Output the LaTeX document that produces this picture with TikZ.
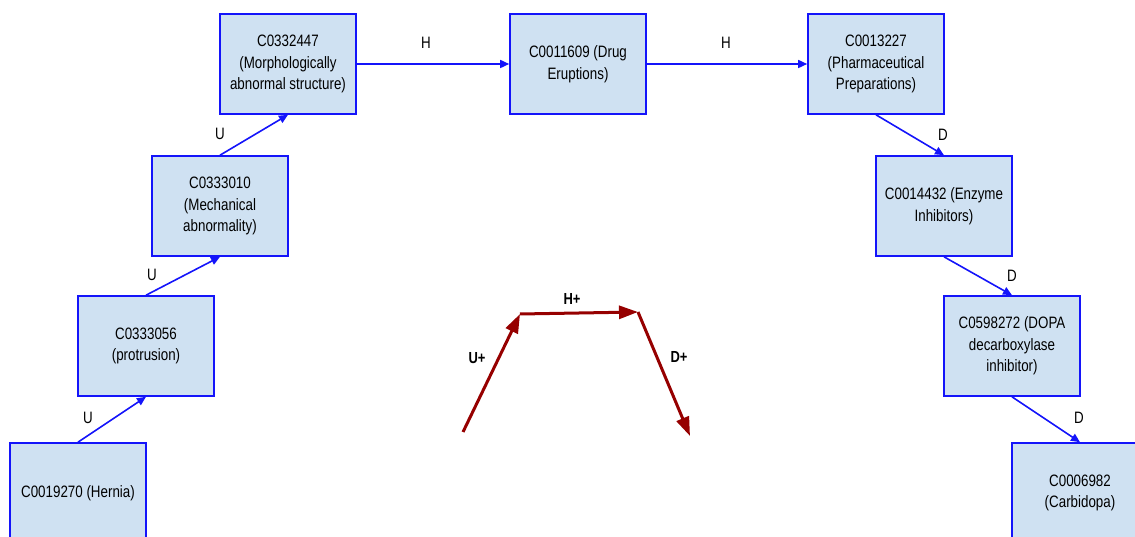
\documentclass[tikz,border=0pt]{standalone}
\usepackage{fontspec}
\setmainfont{Liberation Sans}[FakeStretch=0.81]
\usetikzlibrary{arrows.meta}
\definecolor{boxfill}{RGB}{207,225,242}
\definecolor{boxline}{RGB}{20,20,250}
\definecolor{pathred}{RGB}{150,0,0}
\tikzset{
  concept/.style={draw=boxline, fill=boxfill, line width=1.6pt, rectangle,
    minimum width=136pt, minimum height=100pt, inner sep=0pt, align=center,
    font=\fontsize{16.5}{21.7}\selectfont},
  rel/.style={draw=boxline, line width=1.6pt, -{Triangle[length=9pt,width=8pt]}},
  rellabel/.style={font=\fontsize{16.5}{20}\selectfont, inner sep=0pt},
  trend/.style={draw=pathred, line width=3pt, -{Triangle[length=19pt,width=13pt]}},
  trendlabel/.style={font=\fontsize{16}{19}\bfseries\selectfont, inner sep=0pt},
}
\begin{document}
\begin{tikzpicture}[x=1pt, y=-1pt]
\useasboundingbox (0,0) rectangle (1135,537);

% concept chain: up, across, down
\node[concept] (hernia)  at (78,493)   {C0019270 (Hernia)};
\node[concept] (protr)   at (146,346)  {C0333056\\(protrusion)};
\node[concept] (mech)    at (220,206)  {C0333010\\(Mechanical\\abnormality)};
\node[concept] (morph)   at (288,64)   {C0332447\\(Morphologically\\abnormal structure)};
\node[concept] (drug)    at (578,64)   {C0011609 (Drug\\Eruptions)};
\node[concept] (pharm)   at (876,64)   {C0013227\\(Pharmaceutical\\Preparations)};
\node[concept] (enzyme)  at (944,206)  {C0014432 (Enzyme\\Inhibitors)};
\node[concept] (dopa)    at (1012,346) {C0598272 (DOPA\\decarboxylase\\inhibitor)};
\node[concept] (carbi)   at (1080,493) {C0006982\\(Carbidopa)};

% relations between concepts
\draw[rel] (hernia.north) -- (protr.south);
\draw[rel] (protr.north)  -- (mech.south);
\draw[rel] (mech.north)   -- (morph.south);
\draw[rel] (morph.east)   -- (drug.west);
\draw[rel] (drug.east)    -- (pharm.west);
\draw[rel] (pharm.south)  -- (enzyme.north);
\draw[rel] (enzyme.south) -- (dopa.north);
\draw[rel] (dopa.south)   -- (carbi.north);

% relation labels
\node[rellabel] (lu1) at (88,418)   {U};
\node[rellabel] (lu2) at (152,275)  {U};
\node[rellabel] (lu3) at (220,134)  {U};
\node[rellabel] (lh1) at (426,43)   {H};
\node[rellabel] (lh2) at (726,43)   {H};
\node[rellabel] (ld1) at (943,135)  {D};
\node[rellabel] (ld2) at (1012,276) {D};
\node[rellabel] (ld3) at (1079,418) {D};

% overall pattern of the path
\coordinate (p0) at (463,432);
\coordinate (p1) at (520,314);
\coordinate (p2) at (638,312);
\coordinate (p3) at (690,436);
\draw[trend] (p0) -- (p1);
\draw[trend] (p1) -- (p2);
\draw[trend] (p2) -- (p3);
\node[trendlabel] (lup)   at (477,358) {U+};
\node[trendlabel] (lhor)  at (572,299) {H+};
\node[trendlabel] (ldown) at (679,357) {D+};
\end{tikzpicture}
\end{document}
